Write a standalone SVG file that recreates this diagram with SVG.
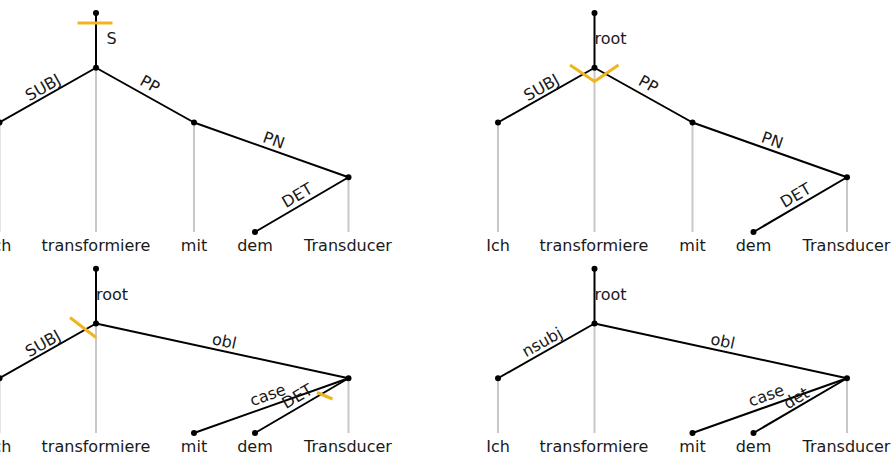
<svg xmlns="http://www.w3.org/2000/svg" width="891" height="460" viewBox="0 0 891 460">
<style>
text{font-family:"DejaVu Sans","Noto Sans",sans-serif;font-size:16px;fill:#1a1a1a}
.w{text-anchor:middle}
.l{text-anchor:middle}
.e{stroke:#000;stroke-width:2;fill:none;stroke-linecap:round}
.g{stroke:#c8c8c8;stroke-width:2;fill:none}
.d{fill:#000}
.y{stroke:#f0b41e;stroke-width:3;fill:none}
</style>
<rect width="891" height="460" fill="#fff"/>
<!-- projection lines -->
<g id="projections">
<line class="g" x1="-0.5" y1="122.5" x2="-0.5" y2="232"/>
<line class="g" x1="96" y1="67.75" x2="96" y2="232"/>
<line class="g" x1="194" y1="122.5" x2="194" y2="232"/>
<line class="g" x1="348.5" y1="177.25" x2="348.5" y2="232"/>
<line class="g" x1="498" y1="122.5" x2="498" y2="232"/>
<line class="g" x1="594.5" y1="67.75" x2="594.5" y2="232"/>
<line class="g" x1="692.5" y1="122.5" x2="692.5" y2="232"/>
<line class="g" x1="847" y1="177.25" x2="847" y2="232"/>
<line class="g" x1="-0.5" y1="378.25" x2="-0.5" y2="433"/>
<line class="g" x1="96" y1="323.5" x2="96" y2="433"/>
<line class="g" x1="348.5" y1="378.25" x2="348.5" y2="433"/>
<line class="g" x1="498" y1="378.25" x2="498" y2="433"/>
<line class="g" x1="594.5" y1="323.5" x2="594.5" y2="433"/>
<line class="g" x1="847" y1="378.25" x2="847" y2="433"/>
</g>
<g id="connectors">
<!-- top-left -->
<line class="e" x1="96" y1="13" x2="96" y2="67.75"/>
<line class="e" x1="96" y1="67.75" x2="-0.5" y2="122.5"/>
<line class="e" x1="96" y1="67.75" x2="194" y2="122.5"/>
<line class="e" x1="194" y1="122.5" x2="348.5" y2="177.25"/>
<line class="e" x1="348.5" y1="177.25" x2="255" y2="232"/>
<text class="l" x="111.5" y="44">S</text>
<text class="l" transform="translate(43.5,88.5) rotate(-29.57)" y="4.3">SUBJ</text>
<text class="l" transform="translate(150,84) rotate(29.19)" y="5.8">PP</text>
<text class="l" transform="translate(274,140) rotate(19.51)" y="5.8">PN</text>
<text class="l" transform="translate(297,195) rotate(-30.35)" y="5.8">DET</text>
<!-- top-right -->
<line class="e" x1="594.5" y1="13" x2="594.5" y2="67.75"/>
<line class="e" x1="594.5" y1="67.75" x2="498" y2="122.5"/>
<line class="e" x1="594.5" y1="67.75" x2="692.5" y2="122.5"/>
<line class="e" x1="692.5" y1="122.5" x2="847" y2="177.25"/>
<line class="e" x1="847" y1="177.25" x2="753.5" y2="232"/>
<text class="l" x="610.5" y="44">root</text>
<text class="l" transform="translate(542,88.5) rotate(-29.57)" y="4.3">SUBJ</text>
<text class="l" transform="translate(648.5,84) rotate(29.19)" y="5.8">PP</text>
<text class="l" transform="translate(772.5,140) rotate(19.51)" y="5.8">PN</text>
<text class="l" transform="translate(795.5,195) rotate(-30.35)" y="5.8">DET</text>
<!-- bottom-left -->
<line class="e" x1="96" y1="268.75" x2="96" y2="323.5"/>
<line class="e" x1="96" y1="323.5" x2="-0.5" y2="378.25"/>
<line class="e" x1="96" y1="323.5" x2="348.5" y2="378.25"/>
<line class="e" x1="348.5" y1="378.25" x2="194" y2="433"/>
<line class="e" x1="348.5" y1="378.25" x2="255" y2="433"/>
<text class="l" x="112" y="300">root</text>
<text class="l" transform="translate(43.5,344.5) rotate(-29.57)" y="4.3">SUBJ</text>
<text class="l" transform="translate(224.5,340.5) rotate(12.23)" y="6.1">obl</text>
<text class="l" transform="translate(268,396) rotate(-19.51)" y="4.4">case</text>
<text class="l" transform="translate(297,396) rotate(-30.35)" y="5.8">DET</text>
<!-- bottom-right -->
<line class="e" x1="594.5" y1="268.75" x2="594.5" y2="323.5"/>
<line class="e" x1="594.5" y1="323.5" x2="498" y2="378.25"/>
<line class="e" x1="594.5" y1="323.5" x2="847" y2="378.25"/>
<line class="e" x1="847" y1="378.25" x2="692.5" y2="433"/>
<line class="e" x1="847" y1="378.25" x2="753.5" y2="433"/>
<text class="l" x="610.5" y="300">root</text>
<text class="l" transform="translate(542.5,343) rotate(-29.57)" y="4.45">nsubj</text>
<text class="l" transform="translate(723,340.5) rotate(12.23)" y="6.1">obl</text>
<text class="l" transform="translate(766.5,396.5) rotate(-19.51)" y="4.4">case</text>
<text class="l" transform="translate(796,397.5) rotate(-30.35)" y="6.1">det</text>
</g>
<g id="highlights">
<line class="y" x1="77.5" y1="23" x2="112.5" y2="23"/>
<polyline class="y" points="570,65 594.5,81.5 618.5,65"/>
<line class="y" x1="70" y1="317.5" x2="96" y2="337.5"/>
<line class="y" x1="317" y1="392.5" x2="332.5" y2="399"/>
</g>
<!-- nodes -->
<g id="root-tl"><circle class="d" cx="96" cy="13" r="3"/></g>
<g id="ich-tl"><circle class="d" cx="-0.5" cy="122.5" r="3"/><text class="w" x="-0.5" y="251">Ich</text></g>
<g id="transformiere-tl"><circle class="d" cx="96" cy="67.75" r="3"/><text class="w" x="96" y="251">transformiere</text></g>
<g id="mit-tl"><circle class="d" cx="194" cy="122.5" r="3"/><text class="w" x="194" y="251">mit</text></g>
<g id="dem-tl"><circle class="d" cx="255" cy="232" r="3"/><text class="w" x="255" y="251">dem</text></g>
<g id="transducer-tl"><circle class="d" cx="348.5" cy="177.25" r="3"/><text class="w" x="348" y="251">Transducer</text></g>

<g id="root-tr"><circle class="d" cx="594.5" cy="13" r="3"/></g>
<g id="ich-tr"><circle class="d" cx="498" cy="122.5" r="3"/><text class="w" x="498" y="251">Ich</text></g>
<g id="transformiere-tr"><circle class="d" cx="594.5" cy="67.75" r="3"/><text class="w" x="594" y="251">transformiere</text></g>
<g id="mit-tr"><circle class="d" cx="692.5" cy="122.5" r="3"/><text class="w" x="692.5" y="251">mit</text></g>
<g id="dem-tr"><circle class="d" cx="753.5" cy="232" r="3"/><text class="w" x="753.5" y="251">dem</text></g>
<g id="transducer-tr"><circle class="d" cx="847" cy="177.25" r="3"/><text class="w" x="846.5" y="251">Transducer</text></g>

<g id="root-bl"><circle class="d" cx="96" cy="268.75" r="3"/></g>
<g id="ich-bl"><circle class="d" cx="-0.5" cy="378.25" r="3"/><text class="w" x="-0.5" y="452">Ich</text></g>
<g id="transformiere-bl"><circle class="d" cx="96" cy="323.5" r="3"/><text class="w" x="96" y="452">transformiere</text></g>
<g id="mit-bl"><circle class="d" cx="194" cy="433" r="3"/><text class="w" x="194" y="452">mit</text></g>
<g id="dem-bl"><circle class="d" cx="255" cy="433" r="3"/><text class="w" x="255" y="452">dem</text></g>
<g id="transducer-bl"><circle class="d" cx="348.5" cy="378.25" r="3"/><text class="w" x="348" y="452">Transducer</text></g>

<g id="root-br"><circle class="d" cx="594.5" cy="268.75" r="3"/></g>
<g id="ich-br"><circle class="d" cx="498" cy="378.25" r="3"/><text class="w" x="498" y="452">Ich</text></g>
<g id="transformiere-br"><circle class="d" cx="594.5" cy="323.5" r="3"/><text class="w" x="594" y="452">transformiere</text></g>
<g id="mit-br"><circle class="d" cx="692.5" cy="433" r="3"/><text class="w" x="692.5" y="452">mit</text></g>
<g id="dem-br"><circle class="d" cx="753.5" cy="433" r="3"/><text class="w" x="753.5" y="452">dem</text></g>
<g id="transducer-br"><circle class="d" cx="847" cy="378.25" r="3"/><text class="w" x="846.5" y="452">Transducer</text></g>
</svg>
